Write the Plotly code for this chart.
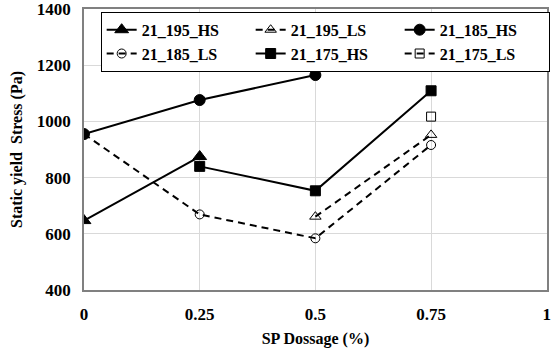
import plotly.graph_objects as go

s195_hs_x = [0, 0.25]
s195_hs_y = [647, 875]

s195_ls_x = [0.5, 0.75]
s195_ls_y = [661, 952]

s185_hs_x = [0, 0.25, 0.5]
s185_hs_y = [955, 1076, 1165]

s185_ls_x = [0, 0.25, 0.5, 0.75]
s185_ls_y = [955, 669, 584, 916]

s175_hs_x = [0.25, 0.5, 0.75]
s175_hs_y = [840, 753, 1109]

s175_ls_x = [0.75]
s175_ls_y = [1017]

x_ticks = [0, 0.25, 0.5, 0.75, 1]
x_ticktext = ["0", "0.25", "0.5", "0.75", "1"]
y_ticks = [400, 600, 800, 1000, 1200, 1400]

FONT = "Liberation Serif"
DASH = "7px,5px"

fig = go.Figure()

def add(name, xs, ys, symbol, dash, size):
    fig.add_trace(go.Scatter(
        x=xs, y=ys, name="<b>" + name + "</b>", mode="lines+markers",
        line=dict(color="black", width=2, dash=dash),
        marker=dict(symbol=symbol, size=size, color="black",
                    line=dict(color="black", width=1)),
    ))

add("21_195_HS", s195_hs_x, s195_hs_y, "triangle-up", "solid", 12)
add("21_195_LS", s195_ls_x, s195_ls_y, "triangle-up-open", DASH, 10)
add("21_185_HS", s185_hs_x, s185_hs_y, "circle", "solid", 11)
add("21_185_LS", s185_ls_x, s185_ls_y, "circle-open", DASH, 9)
add("21_175_HS", s175_hs_x, s175_hs_y, "square", "solid", 10)
add("21_175_LS", s175_ls_x, s175_ls_y, "square-open", DASH, 9)

fig.update_layout(
    width=557, height=349,
    margin=dict(l=84, r=10, t=9, b=59, autoexpand=False),
    paper_bgcolor="white", plot_bgcolor="white",
    font=dict(family=FONT, size=16, color="black"),
    showlegend=True,
    legend=dict(
        orientation="h", x=0.036, y=0.99, xanchor="left", yanchor="top",
        bgcolor="white", bordercolor="black", borderwidth=1,
        font=dict(family=FONT, size=16, color="black"),
        entrywidth=104, entrywidthmode="pixels",
        tracegroupgap=0, itemwidth=30,
    ),
    xaxis=dict(
        range=[0, 1.0005], tickvals=x_ticks, ticktext=x_ticktext,
        showgrid=True, gridcolor="#d9d9d9", gridwidth=1,
        showline=True, linecolor="#808080", linewidth=1.5, mirror=True,
        zeroline=False, ticks="", ticklen=0, automargin=False,
        ticklabeloverflow="allow", ticklabelstandoff=8,
        tickfont=dict(family=FONT, size=17, color="black", weight="bold"),
        title=dict(text="<b>SP Dossage (%)</b>", standoff=10,
                   font=dict(family=FONT, size=16, color="black")),
    ),
    yaxis=dict(
        range=[400, 1400], tickvals=y_ticks,
        showgrid=True, gridcolor="#d9d9d9", gridwidth=1,
        showline=True, linecolor="#808080", linewidth=1.5, mirror=True,
        zeroline=False, ticks="", ticklen=0, automargin=False,
        ticklabelstandoff=8, ticklabeloverflow="allow",
        tickfont=dict(family=FONT, size=17, color="black", weight="bold"),
        title=dict(text="<b>Static yield  Stress (Pa)</b>", standoff=10,
                   font=dict(family=FONT, size=16, color="black")),
    ),
)

fig.write_html("out.html", config={"displayModeBar": False},
               post_script="document.body.style.margin='0px';")
